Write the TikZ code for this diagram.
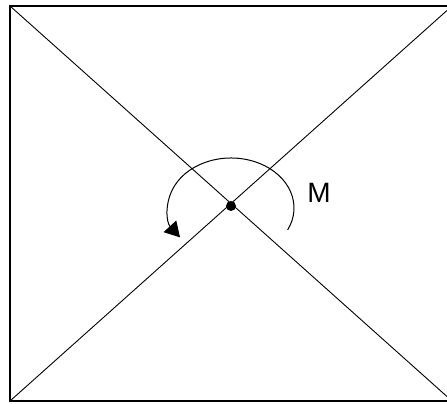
\documentclass[tikz,border=0pt]{standalone}
\usepackage{fontspec}
\setmainfont{Liberation Sans}
\usetikzlibrary{arrows.meta}
\begin{document}
\begin{tikzpicture}[x=1pt,y=1pt,
  thinline/.style={line width=0.9pt,black},
  frame/.style={line width=1.4pt,black}]
\useasboundingbox (0,0) rectangle (447,404);
\fill[white] (0,0) rectangle (447,404);
\begin{scope}
\clip (0,0) rectangle (447,404);
\coordinate (tl) at (10,398);
\coordinate (tr) at (452,398);
\coordinate (bl) at (10,3);
\coordinate (br) at (452,3);
\draw[frame] (bl) rectangle (tr);
\draw[thinline] (tl) -- (br);
\draw[thinline] (bl) -- (tr);
\end{scope}
\node[circle,fill=black,inner sep=0pt,minimum size=10pt] (c) at (231,198) {};
\coordinate (arcc) at (231,196);
\draw[line width=1pt,-{Triangle[length=15pt,width=17pt]}] ([shift={(-26:63 and 50)}]arcc) arc[start angle=-26,end angle=216,x radius=63,y radius=50];
\node[font=\fontsize{28}{28}\selectfont] (m) at (319,211) {M};
\end{tikzpicture}
\end{document}
